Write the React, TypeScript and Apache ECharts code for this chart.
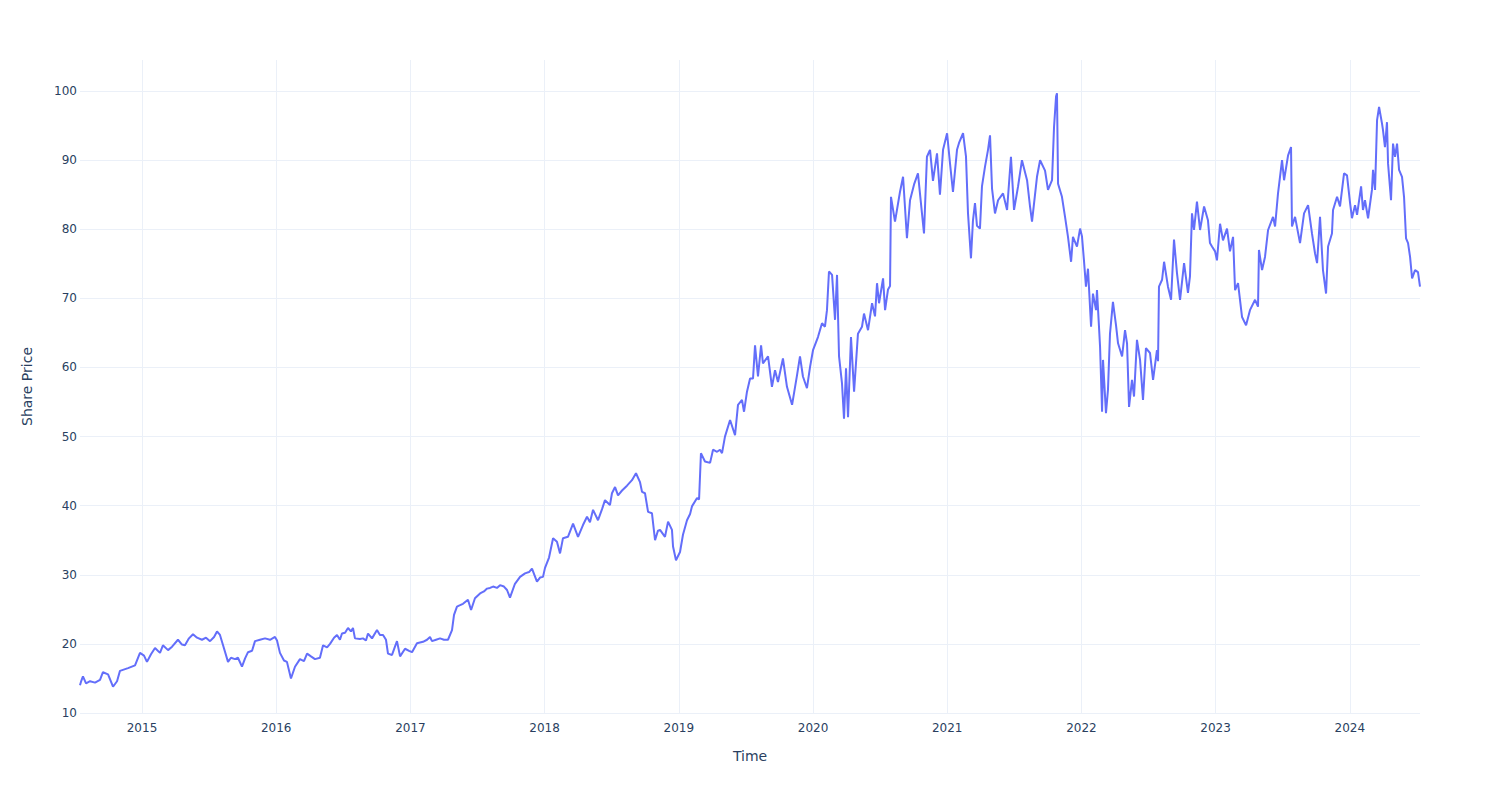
import React, { useEffect, useRef } from "react";
import * as echarts from "echarts";

// [decimal year, share price]
const y2014: [number, number][] = [
  [2014.538, 14.0], [2014.545, 14.5], [2014.56, 15.3], [2014.583, 14.3], [2014.613, 14.6],
  [2014.65, 14.4], [2014.687, 14.8], [2014.709, 15.9], [2014.747, 15.6], [2014.784, 13.8],
  [2014.814, 14.6], [2014.836, 16.1], [2014.896, 16.5], [2014.948, 16.9], [2014.985, 18.7],
];
const y2015: [number, number][] = [
  [2015.015, 18.3], [2015.037, 17.4], [2015.067, 18.5], [2015.097, 19.4], [2015.134, 18.7],
  [2015.156, 19.8], [2015.194, 19.1], [2015.224, 19.6], [2015.268, 20.6], [2015.298, 19.9],
  [2015.32, 19.8], [2015.35, 20.8], [2015.38, 21.4], [2015.41, 20.9], [2015.447, 20.6],
  [2015.477, 20.9], [2015.507, 20.4], [2015.537, 21.0], [2015.559, 21.8], [2015.581, 21.3],
  [2015.604, 19.8], [2015.641, 17.4], [2015.663, 18.0], [2015.693, 17.8], [2015.715, 18.0],
  [2015.745, 16.7], [2015.768, 17.9], [2015.79, 18.8], [2015.82, 19.0], [2015.842, 20.4],
  [2015.879, 20.6], [2015.917, 20.8], [2015.954, 20.6], [2015.991, 21.0],
];
const y2016: [number, number][] = [
  [2016.006, 20.5], [2016.028, 18.7], [2016.058, 17.6], [2016.08, 17.4], [2016.11, 15.0],
  [2016.14, 16.7], [2016.177, 17.8], [2016.207, 17.5], [2016.23, 18.6], [2016.259, 18.2],
  [2016.289, 17.8], [2016.326, 18.0], [2016.349, 19.8], [2016.379, 19.5], [2016.401, 20.0],
  [2016.431, 20.9], [2016.453, 21.3], [2016.475, 20.6], [2016.49, 21.5], [2016.513, 21.6],
  [2016.535, 22.3], [2016.557, 21.8], [2016.572, 22.3], [2016.587, 20.8], [2016.624, 20.7],
  [2016.647, 20.8], [2016.669, 20.5], [2016.684, 21.5], [2016.714, 20.8], [2016.751, 22.0],
  [2016.773, 21.3], [2016.796, 21.3], [2016.818, 20.6], [2016.833, 18.6], [2016.863, 18.4],
  [2016.885, 19.6], [2016.9, 20.4], [2016.923, 18.2], [2016.96, 19.3], [2016.99, 19.0],
];
const y2017: [number, number][] = [
  [2017.012, 18.8], [2017.049, 20.1], [2017.094, 20.3], [2017.124, 20.6], [2017.146, 21.0],
  [2017.161, 20.4], [2017.191, 20.6], [2017.221, 20.8], [2017.25, 20.6], [2017.28, 20.6],
  [2017.31, 22.0], [2017.325, 24.2], [2017.347, 25.4], [2017.37, 25.6], [2017.392, 25.8],
  [2017.429, 26.4], [2017.452, 24.9], [2017.481, 26.6], [2017.519, 27.3], [2017.548, 27.6],
  [2017.571, 28.0], [2017.593, 28.1], [2017.616, 28.3], [2017.645, 28.1], [2017.668, 28.5],
  [2017.697, 28.3], [2017.72, 27.8], [2017.742, 26.7], [2017.779, 28.7], [2017.817, 29.7],
  [2017.854, 30.2], [2017.884, 30.4], [2017.906, 30.9], [2017.943, 29.0], [2017.966, 29.6],
  [2017.988, 29.7],
];
const y2018: [number, number][] = [
  [2018.003, 31.0], [2018.033, 32.5], [2018.063, 35.3], [2018.092, 34.8], [2018.115, 33.1],
  [2018.137, 35.3], [2018.174, 35.5], [2018.212, 37.4], [2018.249, 35.5], [2018.286, 37.2],
  [2018.316, 38.4], [2018.338, 37.6], [2018.361, 39.4], [2018.398, 37.9], [2018.428, 39.5],
  [2018.45, 40.8], [2018.487, 40.1], [2018.502, 41.8], [2018.525, 42.7], [2018.547, 41.5],
  [2018.577, 42.2], [2018.614, 42.9], [2018.651, 43.7], [2018.681, 44.7], [2018.711, 43.4],
  [2018.726, 42.0], [2018.748, 41.8], [2018.771, 39.1], [2018.8, 38.9], [2018.823, 35.0],
  [2018.845, 36.4], [2018.86, 36.5], [2018.897, 35.5], [2018.92, 37.7], [2018.949, 36.5],
  [2018.957, 34.1], [2018.979, 32.1],
];
const y2019: [number, number][] = [
  [2019.009, 33.3], [2019.031, 35.8], [2019.061, 37.9], [2019.084, 38.8], [2019.098, 39.9],
  [2019.136, 41.1], [2019.151, 40.9], [2019.165, 47.6], [2019.195, 46.4], [2019.233, 46.2],
  [2019.255, 48.1], [2019.285, 47.8], [2019.307, 48.1], [2019.322, 47.6], [2019.344, 50.0],
  [2019.382, 52.4], [2019.419, 50.2], [2019.441, 54.6], [2019.471, 55.3], [2019.486, 53.6],
  [2019.508, 56.5], [2019.531, 58.4], [2019.553, 58.4], [2019.568, 63.2], [2019.59, 58.7],
  [2019.613, 63.2], [2019.627, 60.6], [2019.665, 61.6], [2019.694, 57.2], [2019.717, 59.6],
  [2019.739, 57.9], [2019.776, 61.3], [2019.806, 57.2], [2019.844, 54.6], [2019.881, 58.9],
  [2019.903, 61.6], [2019.925, 58.7], [2019.955, 57.0], [2019.978, 60.1],
];
const y2020: [number, number][] = [
  [2020.0, 62.5], [2020.037, 64.4], [2020.067, 66.4], [2020.089, 65.9], [2020.104, 68.3],
  [2020.119, 73.9], [2020.142, 73.4], [2020.164, 66.9], [2020.179, 73.4], [2020.194, 61.6],
  [2020.216, 57.7], [2020.231, 52.6], [2020.246, 59.9], [2020.261, 52.8], [2020.283, 64.4],
  [2020.306, 56.5], [2020.335, 64.9], [2020.365, 65.9], [2020.38, 67.8], [2020.41, 65.4],
  [2020.44, 69.3], [2020.462, 67.4], [2020.477, 72.2], [2020.492, 69.3], [2020.522, 72.9],
  [2020.537, 68.3], [2020.559, 71.3], [2020.574, 71.8], [2020.581, 84.7], [2020.611, 81.1],
  [2020.648, 85.4], [2020.671, 87.6], [2020.7, 78.7], [2020.723, 84.2], [2020.753, 86.5],
  [2020.782, 88.1], [2020.812, 82.3], [2020.827, 79.4], [2020.849, 90.5], [2020.872, 91.5],
  [2020.894, 87.0], [2020.924, 91.0], [2020.946, 85.0], [2020.969, 91.5], [2020.999, 93.9],
];
const y2021: [number, number][] = [
  [2021.021, 89.5], [2021.043, 85.4], [2021.073, 91.5], [2021.088, 92.5], [2021.118, 93.9],
  [2021.14, 90.5], [2021.155, 82.3], [2021.177, 75.8], [2021.192, 81.3], [2021.207, 83.8],
  [2021.222, 80.5], [2021.244, 80.1], [2021.259, 86.2], [2021.282, 89.1], [2021.304, 91.5],
  [2021.319, 93.6], [2021.334, 85.9], [2021.356, 82.3], [2021.379, 84.2], [2021.416, 85.2],
  [2021.446, 82.8], [2021.475, 90.5], [2021.498, 82.8], [2021.528, 86.2], [2021.557, 90.0],
  [2021.595, 87.1], [2021.617, 83.3], [2021.632, 81.1], [2021.669, 87.6], [2021.692, 90.0],
  [2021.729, 88.5], [2021.751, 85.7], [2021.781, 87.1], [2021.796, 94.8], [2021.811, 99.2],
  [2021.818, 99.7], [2021.826, 86.6], [2021.855, 84.7], [2021.878, 81.8], [2021.9, 78.9],
  [2021.923, 75.3], [2021.937, 78.9], [2021.967, 77.5], [2021.99, 80.1],
];
const y2022: [number, number][] = [
  [2022.004, 79.0], [2022.019, 75.5], [2022.034, 71.7], [2022.049, 74.3], [2022.072, 65.9],
  [2022.086, 70.7], [2022.109, 68.3], [2022.116, 71.2], [2022.131, 65.9], [2022.139, 63.0],
  [2022.154, 53.6], [2022.161, 61.1], [2022.183, 53.4], [2022.198, 56.8], [2022.213, 64.9],
  [2022.235, 69.5], [2022.258, 66.1], [2022.273, 63.5], [2022.303, 61.6], [2022.325, 65.4],
  [2022.34, 63.5], [2022.355, 54.3], [2022.377, 58.2], [2022.392, 55.8], [2022.414, 64.0],
  [2022.437, 61.1], [2022.459, 55.3], [2022.481, 62.8], [2022.511, 62.1], [2022.534, 58.2],
  [2022.563, 62.5], [2022.571, 60.9], [2022.578, 71.7], [2022.601, 72.7], [2022.616, 75.3],
  [2022.645, 71.7], [2022.668, 69.8], [2022.69, 78.5], [2022.712, 73.7], [2022.735, 69.8],
  [2022.765, 75.1], [2022.794, 70.8], [2022.809, 73.2], [2022.824, 82.3], [2022.839, 79.9],
  [2022.861, 84.0], [2022.884, 79.9], [2022.914, 83.3], [2022.943, 81.3], [2022.958, 78.0],
  [2022.973, 77.5], [2022.996, 76.8],
];
const y2023: [number, number][] = [
  [2023.01, 75.5], [2023.033, 80.8], [2023.055, 78.4], [2023.085, 80.1], [2023.107, 76.8],
  [2023.13, 78.9], [2023.145, 71.2], [2023.167, 72.2], [2023.197, 67.3], [2023.227, 66.1],
  [2023.256, 68.3], [2023.294, 69.8], [2023.316, 68.8], [2023.323, 77.0], [2023.346, 74.1],
  [2023.368, 76.0], [2023.391, 79.9], [2023.428, 81.8], [2023.443, 80.4], [2023.465, 85.2],
  [2023.495, 90.0], [2023.51, 87.1], [2023.54, 90.7], [2023.562, 91.9], [2023.569, 80.4],
  [2023.592, 81.8], [2023.629, 78.0], [2023.659, 82.3], [2023.689, 83.5], [2023.718, 79.4],
  [2023.741, 76.5], [2023.756, 75.1], [2023.778, 81.8], [2023.8, 74.1], [2023.823, 70.7],
  [2023.838, 77.5], [2023.867, 79.4], [2023.875, 82.8], [2023.905, 84.7], [2023.927, 83.3],
  [2023.957, 88.1], [2023.979, 87.8],
];
const y2024: [number, number][] = [
  [2024.002, 83.8], [2024.016, 81.6], [2024.039, 83.5], [2024.054, 82.1], [2024.084, 86.2],
  [2024.098, 82.8], [2024.113, 84.2], [2024.136, 81.6], [2024.165, 85.7], [2024.173, 88.6],
  [2024.188, 85.7], [2024.203, 95.8], [2024.218, 97.7], [2024.24, 95.3], [2024.247, 94.4],
  [2024.262, 91.9], [2024.277, 95.5], [2024.285, 89.5], [2024.307, 84.2], [2024.322, 92.4],
  [2024.337, 90.5], [2024.352, 92.4], [2024.367, 88.6], [2024.389, 87.6], [2024.404, 84.7],
  [2024.419, 78.7], [2024.434, 78.0], [2024.449, 76.0], [2024.464, 72.9], [2024.486, 74.1],
  [2024.508, 73.8], [2024.523, 71.7],
];

const priceSeries = [
  ...y2014, ...y2015, ...y2016, ...y2017, ...y2018,
  ...y2019, ...y2020, ...y2021, ...y2022, ...y2023, ...y2024,
];

const xTitle = "Time";
const yTitle = "Share Price";

export default function App() {
  const ref = useRef<HTMLDivElement>(null);
  useEffect(() => {
    if (!ref.current) return;
    const chart = echarts.init(ref.current, null, { renderer: "svg" });
    const font = "'DejaVu Sans', Verdana, sans-serif";
    const textColor = "#2a3f5f";
    const grid = "#ebf0f8";
    chart.setOption({
      animation: false,
      backgroundColor: "#ffffff",
      textStyle: { fontFamily: font },
      grid: { left: 80, right: 80, top: 60, bottom: 87, containLabel: false },
      xAxis: {
        type: "value",
        min: "dataMin",
        max: "dataMax",
        splitNumber: 10,
        name: xTitle,
        nameLocation: "middle",
        nameGap: 36,
        nameTextStyle: { color: textColor, fontSize: 14, fontFamily: font },
        axisLine: { show: false },
        axisTick: { show: false },
        axisLabel: {
          color: textColor,
          fontSize: 12,
          fontFamily: font,
          margin: 9,
          showMinLabel: false,
          showMaxLabel: false,
          formatter: (v: number) => String(Math.round(v)),
        },
        splitLine: {
          show: true,
          showMinLine: false,
          showMaxLine: false,
          lineStyle: { color: grid, width: 1 },
        },
      },
      yAxis: {
        type: "value",
        min: 10,
        max: 104.5,
        interval: 10,
        name: yTitle,
        nameLocation: "middle",
        nameGap: 46,
        nameTextStyle: { color: textColor, fontSize: 14, fontFamily: font },
        axisLine: { show: false },
        axisTick: { show: false },
        axisLabel: {
          color: textColor,
          fontSize: 12,
          fontFamily: font,
          margin: 3,
          showMaxLabel: false,
        },
        splitLine: {
          show: true,
          showMaxLine: false,
          lineStyle: { color: grid, width: 1 },
        },
      },
      series: [
        {
          type: "line",
          data: priceSeries,
          showSymbol: false,
          symbol: "none",
          lineStyle: { color: "#636efa", width: 2 },
          itemStyle: { color: "#636efa" },
        },
      ],
    });
    return () => chart.dispose();
  }, []);
  return <div ref={ref} style={{ width: 1500, height: 800, margin: -8 }} />;
}
